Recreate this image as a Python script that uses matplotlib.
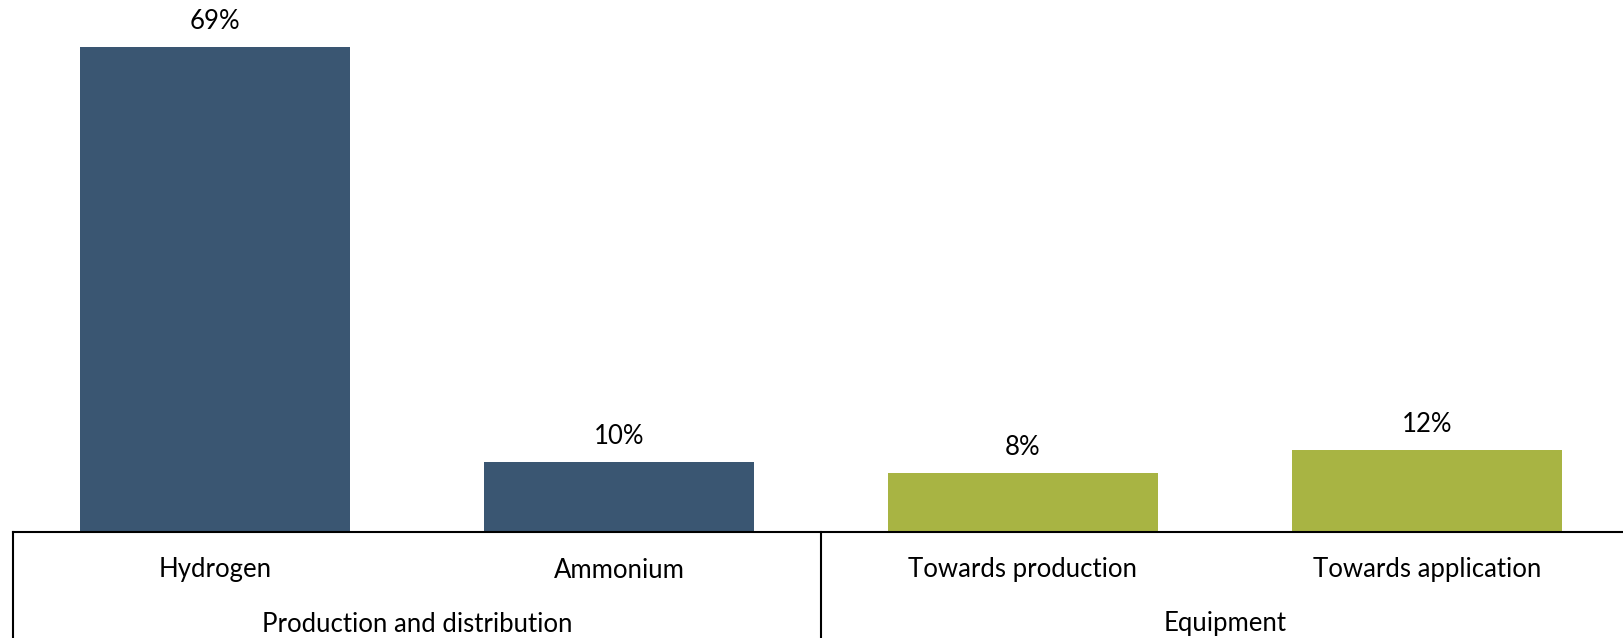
import matplotlib.pyplot as plt
import matplotlib.transforms as mtransforms

categories = ["Hydrogen", "Ammonium", "Towards production", "Towards application"]
groups = ["Production and distribution", "Equipment"]
group_of = [0, 0, 1, 1]
values = [69, 10, 8.4, 11.6]
labels = ["69%", "10%", "8%", "12%"]

colors = ["#3A5672", "#3A5672", "#A8B443", "#A8B443"]

plt.rcParams['font.family'] = ['Lato', 'DejaVu Sans']
FS = 18.5

fig = plt.figure(figsize=(16.24, 6.38), dpi=100)
W, H = 1624, 638
# axes spans the 4 category slots; slightly wider than the figure on the right
ax = fig.add_axes([13 / W, (H - 532) / H, (1629 - 13) / W, 532 / H])

x = list(range(len(categories)))
ax.bar(x, values, width=0.666, color=colors)
ax.set_xlim(-0.5, len(categories) - 0.5)
ax.set_ylim(0, 532 / (485 / 69))

for xi, v, lab in zip(x, values, labels):
    ax.annotate(lab, (xi, v), xytext=(0, 18.5), textcoords="offset points",
                ha="center", va="center", fontsize=FS)

for s in ["top", "left", "right"]:
    ax.spines[s].set_visible(False)
ax.spines["bottom"].set_linewidth(1.5)
ax.set_xticks([])
ax.set_yticks([])

trans = mtransforms.blended_transform_factory(ax.transData, fig.transFigure)
cat_y = (H - 570) / H
grp_y = (H - 624) / H
for xi, c in zip(x, categories):
    ax.text(xi, cat_y, c, transform=trans, ha="center", va="center", fontsize=FS)

for g, name in enumerate(groups):
    idx = [i for i, gi in enumerate(group_of) if gi == g]
    mid = (idx[0] + idx[-1]) / 2
    ax.text(mid, grp_y, name, transform=trans, ha="center", va="center", fontsize=FS)

# group separators below the axis
for xb in [-0.5, 1.5]:
    ax.plot([xb, xb], [0, -0.2], transform=mtransforms.blended_transform_factory(ax.transData, ax.transAxes),
            color="black", lw=1.5, clip_on=False)

fig.savefig("out.png", dpi=100)
